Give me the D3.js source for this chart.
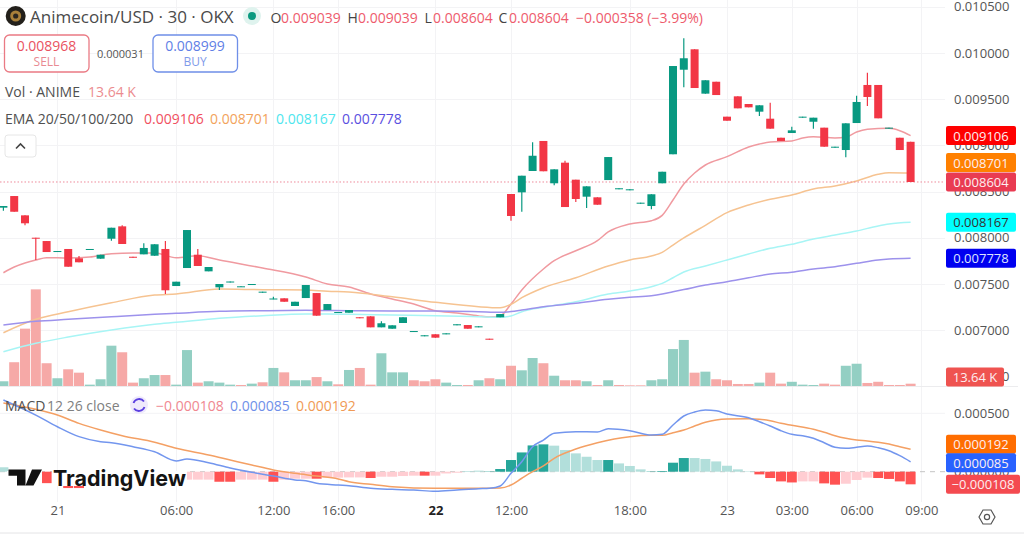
<!DOCTYPE html>
<html>
<head>
<meta charset="utf-8">
<title>Animecoin/USD</title>
<script src="https://cdnjs.cloudflare.com/ajax/libs/d3/7.9.0/d3.min.js"></script>
<style>
  html, body { margin: 0; padding: 0; background: #fff; }
  svg { display: block; }
  text { font-family: "Open Sans", "Noto Sans", sans-serif; }
</style>
</head>
<body>
<svg id="chart" width="1024" height="534"></svg>
<script>
// Prices and indicator values are in millionths (8604 = 0.008604).
const opens  = [8326,8452,8243,8001,7965,7846,7879,7778,7868,7774,7990,8124,7795,7821,7806,7879,7478,7673,7817,7637,7464,7516,7467,7489,7406,7334,7345,7262,7348,7402,7218,7186,7189,7140,7150,7031,7016,7078,6980,6934,6956,6956,7053,7056,7031,6908,7140,8474,8492,8723,9048,8590,8813,8629,8445,8438,8625,8525,8514,8369,8344,8590,8904,9819,10040,9560,9689,9311,9531,9448,9365,9289,9083,9134,9300,9256,9192,8975,8950,9242,9654,9654,9181,9083,9039];
const closes = [8344,8282,8157,7990,7846,7857,7687,7735,7879,7817,8109,7933,7784,7890,7930,7432,7525,8084,7695,7684,7500,7527,7475,7500,7417,7343,7308,7308,7489,7157,7283,7197,7218,7129,7031,7075,7053,7140,6991,6945,6919,6966,7064,7016,7042,6897,7175,8236,8672,8888,8720,8741,8333,8420,8557,8358,8874,8536,8525,8380,8471,8715,9859,9943,9621,9705,9545,9267,9401,9412,9434,9181,9048,9163,9311,9300,8986,8986,9239,9470,9524,9293,9192,8950,8604];
const upperWicks = {7:7803,11:8135,13:7940,15:7965,18:7879,25:7362,35:7097,49:9034,52:8834,63:10159,71:9462,73:9202,79:9538,80:9787};
const lowerWicks = {0:8293,2:8135,3:7760,10:7969,15:7392,20:7435,47:8185,48:8282,51:8568,53:8387,54:8322,60:8308,63:9629,70:9318,75:9181,78:8871,80:9426};

const ema20Bars = [0,1,2,3,4,6,8,10,12,14,16,18,20,24,28,30,32,34,36,38,40,42,44,45,46,47,48,50,51,53,55,56,58,60,61,62,63,64,65,67,69,70,71,73,74,75,77,78,79,80,82,83,84];
const ema20 = [7622,7684,7727,7760,7785,7781,7792,7828,7835,7835,7785,7806,7760,7673,7576,7500,7467,7392,7338,7283,7211,7186,7154,7143,7154,7283,7435,7662,7752,7860,7969,8063,8149,8185,8243,8409,8582,8701,8788,8878,8983,9015,9037,9048,9080,9094,9080,9088,9145,9174,9185,9159,9106];
const emaBars = [0,3,6,10,14,16,20,24,28,30,32,36,40,44,46,47,48,50,53,56,58,60,61,62,63,65,67,69,71,73,75,77,79,81,82,84];
const ema50  = [6973,7118,7200,7297,7381,7392,7446,7438,7435,7421,7413,7362,7302,7254,7243,7280,7352,7460,7568,7695,7760,7803,7843,7922,7998,8135,8272,8355,8417,8463,8528,8561,8615,8687,8704,8701];
const ema100 = [6767,6858,6926,7002,7064,7085,7129,7157,7175,7175,7172,7164,7157,7146,7140,7154,7200,7248,7308,7392,7424,7471,7507,7568,7630,7695,7760,7825,7886,7930,7987,8030,8074,8128,8149,8167];
const ema200 = [7056,7096,7118,7146,7172,7183,7204,7211,7215,7213,7211,7208,7208,7200,7194,7202,7218,7254,7291,7334,7356,7373,7392,7417,7440,7489,7525,7568,7608,7627,7662,7687,7724,7760,7770,7778];

// Volume in thousands, with each bar's direction.
const volumes = [28,141,340,573,135,46,99,79,8,40,239,200,20,46,65,65,8,213,20,28,20,8,6,14,22,107,81,34,34,53,28,10,95,107,8,194,81,81,34,28,40,20,6,6,34,46,40,120,93,166,135,61,34,34,28,6,34,6,4,4,34,40,219,273,79,85,40,34,12,12,20,79,14,25,8,6,14,8,120,132,18,25,6,6,13.64];
const volumeSides = "grrrrgrrgggrrggrggrgggrgrgrggrgr" + "grrgggrrrggrgrgrggrgrrgrgrrrgggg" + "rgrrrrgrrgggrrggrrrrr";

const macdBars = [0,3,5,7,9,10,12,14,16,17,19,21,23,25,27,28,29,31,32,34,36,38,40,42,44,45,46,47,48,49,50,51,53,55,56,58,60,61,62,63,64,65,66,67,69,70,71,72,73,74,75,76,77,78,79,80,81,82,83,84];
const macdLine = [614,485,385,300,257,248,214,171,92,109,77,32,-5,-37,-71,-77,-99,-114,-120,-142,-151,-157,-168,-157,-146,-142,-122,-14,86,214,271,329,342,340,368,351,314,320,400,477,511,528,522,494,462,428,391,351,320,308,286,248,209,200,209,220,205,180,137,85];
const signalBars = [0,3,5,7,9,11,14,16,19,21,23,25,27,29,31,32,34,36,40,44,46,47,48,49,50,51,53,55,58,60,61,62,63,64,65,66,67,69,70,71,72,73,75,76,77,78,79,80,81,82,83,84];
const signalLine = [588,534,485,414,357,308,252,200,143,100,57,15,-14,-37,-62,-86,-108,-128,-142,-142,-140,-114,-56,0,49,115,194,248,300,312,312,334,357,391,423,443,451,454,449,437,414,397,363,337,308,286,271,263,252,237,214,192];
const histogram = [38,-40,-60,-75,-98,-90,-140,-140,-90,-85,-80,-75,-72,-70,-68,-68,-68,-68,-68,-68,-86,-86,-68,-68,-68,-86,-68,-60,-60,-60,-51,-51,-49,-49,-54,-43,-43,-37,-34,-34,-34,-15,-9,6,9,3,23,100,165,225,234,223,186,157,128,100,100,71,49,20,3,6,77,117,117,109,88,51,20,4,-23,-54,-83,-92,-83,-83,-100,-111,-103,-71,-51,-54,-62,-83,-108];
const histogramShades = "grrrRrRRrrrrrrrrrrrrRRrrrRrrrRrrrrRrrrrRrrrggGGGGGGgggggGgggGGGGggggggRRRRrrRRrrrRRRR";

const priceTicks = [6500,7000,7500,8000,8500,9000,9500,10000,10500];
const macdTicks = [0,500];
const timeTicks = [5,16,25,31,40,47,58,67,73,79,85];
const timeLabels = ["21","06:00","12:00","16:00","22","12:00","18:00","23","03:00","06:00","09:00"];

const svg = d3.select("#chart");
const paneRight = 945;

const x = d3.scaleLinear().domain([0, 84]).range([3.4, 910.6]);
const priceY = d3.scaleLinear().domain([6500, 10500]).range([376.4, 6.8]);
const volumeY = d3.scaleLinear().domain([0, 600]).range([386, 284.8]);
const macdY = d3.scaleLinear().domain([0, 500]).range([471.7, 413.3]);

const GREEN = "#089981", RED = "#f23645";
const micro = v => (v / 1e6).toFixed(6);

// Grid
const grid = svg.append("g").attr("stroke", "#f3f3f5").attr("stroke-width", 1);
grid.selectAll(".gv").data(timeTicks).join("line")
  .attr("x1", d => Math.round(x(d)) + .5).attr("x2", d => Math.round(x(d)) + .5)
  .attr("y1", 0).attr("y2", 502);
grid.selectAll(".gh").data(priceTicks.filter(d => d > 6500)).join("line")
  .attr("x1", 0).attr("x2", paneRight)
  .attr("y1", d => Math.round(priceY(d)) + .5).attr("y2", d => Math.round(priceY(d)) + .5);
grid.append("line").attr("x1", 0).attr("x2", paneRight).attr("y1", macdY(500)).attr("y2", macdY(500));
svg.append("line").attr("x1", 0).attr("x2", 1018).attr("y1", 386.5).attr("y2", 386.5).attr("stroke", "#ececee");
svg.append("line").attr("x1", 0).attr("x2", 1024).attr("y1", 533).attr("y2", 533).attr("stroke", "#e4e4e6");

// Volume
svg.append("g").selectAll("rect").data(volumes).join("rect")
  .attr("x", (d, i) => x(i) - 5).attr("width", 10)
  .attr("y", d => volumeY(d)).attr("height", d => volumeY(0) - volumeY(d))
  .attr("fill", (d, i) => volumeSides[i] === "g" ? "#93cfc3" : "#f6a9a7");

// Moving averages
const emaLine = d3.line().x(d => x(d[0])).y(d => priceY(d[1])).curve(d3.curveMonotoneX);
[[ema20Bars, ema20, "#f09aa0"], [emaBars, ema50, "#f6c391"], [emaBars, ema100, "#a8f5f5"], [emaBars, ema200, "#9d92ec"]]
  .forEach(([bars, values, colour]) => {
    svg.append("path").datum(d3.zip(bars, values)).attr("d", emaLine)
      .attr("fill", "none").attr("stroke", colour).attr("stroke-width", 1.5);
  });

// Last price line
svg.append("line").attr("x1", 0).attr("x2", paneRight)
  .attr("y1", priceY(closes[84])).attr("y2", priceY(closes[84]))
  .attr("stroke", "#ee8a9a").attr("stroke-width", 1).attr("stroke-dasharray", "1.5 2");

// Candles
const bars = d3.range(opens.length).map(i => ({
  i, open: opens[i], close: closes[i],
  high: Math.max(opens[i], closes[i], upperWicks[i] || 0),
  low: Math.min(opens[i], closes[i], lowerWicks[i] || 1e9)
}));
const candle = svg.append("g").selectAll("g").data(bars).join("g");
candle.append("line")
  .attr("x1", d => x(d.i)).attr("x2", d => x(d.i))
  .attr("y1", d => priceY(d.high)).attr("y2", d => priceY(d.low))
  .attr("stroke", d => d.close >= d.open ? GREEN : RED).attr("stroke-width", 1.2);
candle.append("rect")
  .attr("x", d => x(d.i) - 4).attr("width", 8)
  .attr("y", d => priceY(Math.max(d.open, d.close)))
  .attr("height", d => Math.max(1, Math.abs(priceY(d.open) - priceY(d.close))))
  .attr("fill", d => d.close >= d.open ? GREEN : RED);

// MACD pane
svg.append("line").attr("x1", 0).attr("x2", paneRight).attr("y1", macdY(0)).attr("y2", macdY(0))
  .attr("stroke", "#c4c4c4").attr("stroke-dasharray", "5 5");
const shadeColour = { G: "#26a69a", g: "#b2dfdb", R: "#ff5252", r: "#ffcdd2" };
svg.append("g").selectAll("rect").data(histogram).join("rect")
  .attr("x", (d, i) => x(i) - 5).attr("width", 10)
  .attr("y", d => macdY(Math.max(d, 0)))
  .attr("height", d => Math.abs(macdY(d) - macdY(0)))
  .attr("fill", (d, i) => shadeColour[histogramShades[i]]);
const macdPath = d3.line().x(d => x(d[0])).y(d => macdY(d[1])).curve(d3.curveMonotoneX);
svg.append("path").datum(d3.zip(signalBars, signalLine)).attr("d", macdPath)
  .attr("fill", "none").attr("stroke", "#f4a064").attr("stroke-width", 1.5);
svg.append("path").datum(d3.zip(macdBars, macdLine)).attr("d", macdPath)
  .attr("fill", "none").attr("stroke", "#7396ee").attr("stroke-width", 1.5);

// Axes
const priceAxis = d3.axisRight(priceY).tickValues(priceTicks).tickFormat(micro).tickSize(0).tickPadding(0);
const macdAxis = d3.axisRight(macdY).tickValues(macdTicks).tickFormat(micro).tickSize(0).tickPadding(0);
const timeAxis = d3.axisBottom(x).tickValues(timeTicks).tickFormat((d, i) => timeLabels[i]).tickSize(0).tickPadding(0);
[svg.append("g").attr("transform", "translate(954,0)").call(priceAxis),
 svg.append("g").attr("transform", "translate(954,0)").call(macdAxis),
 svg.append("g").attr("transform", "translate(0,506)").call(timeAxis)]
  .forEach(axis => {
    axis.select(".domain").remove();
    axis.selectAll("text").attr("fill", "#555").style("font-size", "13px")
      .style("font-family", '"Open Sans", sans-serif');
  });
svg.selectAll("g.tick text").filter(function () { return this.textContent === "22"; })
  .attr("fill", "#222").style("font-weight", 700);

// Value tags along the right edge
function tag(cy, w, label, fill, ink) {
  svg.append("rect").attr("x", 946).attr("y", cy - 9.5).attr("width", w).attr("height", 19).attr("rx", 2).attr("fill", fill);
  svg.append("text").attr("x", 946 + w / 2).attr("y", cy).attr("text-anchor", "middle")
    .attr("dominant-baseline", "central").attr("font-size", 13).attr("fill", ink).text(label);
}
const pale = "#fdeef0";
tag(priceY(ema20[ema20.length - 1]), 70, micro(9106), "#ff0000", pale);
tag(priceY(8701) - 10.5, 70, micro(8701), "#ff8000", pale);
tag(priceY(closes[84]), 70, micro(closes[84]), "#e93b52", pale);
tag(priceY(8167), 70, micro(8167), "#00ffff", "#333");
tag(priceY(7778), 70, micro(7778), "#0000f0", "#dfe4ff");
tag(377, 58, "13.64 K", "#ef5350", pale);
tag(macdY(192) - 5, 70, micro(192), "#ff6d00", pale);
tag(macdY(85) + 1, 70, micro(85), "#2962ff", pale);
tag(macdY(histogram[84]), 74, "\u2212" + micro(108), "#f44a50", pale);

// Watermark, on a white backing over the histogram
const mark = svg.append("g");
mark.append("rect").attr("x", 7).attr("y", 471).attr("width", 35).attr("height", 15).attr("fill", "#fff");
mark.append("rect").attr("x", 52).attr("y", 471).attr("width", 135).attr("height", 15).attr("fill", "#fff");
mark.append("path").attr("d", "M8.5 469.5H25.5V485.5H17V475.8H8.5Z M32 469.5H42L33.5 485.5H25.5Z").attr("fill", "#111");
mark.append("text").attr("x", 53).attr("y", 485.5).attr("font-size", 22).attr("font-weight", 700)
  .attr("textLength", 133).attr("lengthAdjust", "spacingAndGlyphs").attr("fill", "#141414")
  .style("font-family", "Inter, sans-serif").text("TradingView");

// Header text
function label(px, py, str, fill, size, weight) {
  return svg.append("text").attr("x", px).attr("y", py).attr("dominant-baseline", "central")
    .attr("font-size", size || 14).attr("font-weight", weight || 400).attr("fill", fill).text(str);
}
const coin = svg.append("g");
coin.append("circle").attr("cx", 15.7).attr("cy", 16).attr("r", 10).attr("fill", "#23201b");
coin.append("circle").attr("cx", 15.7).attr("cy", 16).attr("r", 5.5).attr("fill", "#a9803a");
coin.append("circle").attr("cx", 15.7).attr("cy", 16).attr("r", 2.6).attr("fill", "#2b2620");
label(30, 16.5, "Animecoin/USD \u00b7 30 \u00b7 OKX", "#4a4a4a", 17);
svg.append("circle").attr("cx", 252).attr("cy", 16).attr("r", 9).attr("fill", "#dff3ee");
svg.append("circle").attr("cx", 252).attr("cy", 16).attr("r", 4).attr("fill", "#0c9a80");

const ohlcRed = "#ee5b6d";
[[270.5, "O", 281, 9039], [347.5, "H", 358, 9039], [424.5, "L", 433, 8604], [498.5, "C", 509, 8604]].forEach(([lx, letter, vx, v]) => {
  label(lx, 17, letter, "#444");
  label(vx, 17, micro(v), ohlcRed);
});
label(576, 17, "\u22120.000358 (\u22123.99%)", ohlcRed);

function orderBox(bx, colour, price, side, ink, sideInk) {
  svg.append("rect").attr("x", bx).attr("y", 35).attr("width", 84.5).attr("height", 37).attr("rx", 5)
    .attr("fill", "#fff").attr("stroke", colour).attr("stroke-width", 1.3);
  svg.append("text").attr("x", bx + 42).attr("y", 45).attr("text-anchor", "middle").attr("dominant-baseline", "central")
    .attr("font-size", 14).attr("fill", ink).text(price);
  svg.append("text").attr("x", bx + 42).attr("y", 61).attr("text-anchor", "middle").attr("dominant-baseline", "central")
    .attr("font-size", 12).attr("fill", sideInk).text(side);
}
orderBox(4.5, "#ea7a84", "0.008968", "SELL", "#e9525f", "#e98a92");
orderBox(153, "#6f8fe8", "0.008999", "BUY", "#5f80e6", "#7f9bea");
svg.append("text").attr("x", 120.5).attr("y", 53).attr("text-anchor", "middle").attr("dominant-baseline", "central")
  .attr("font-size", 11).attr("fill", "#555").text("0.000031");

label(5, 91, "Vol \u00b7 ANIME", "#505050");
label(88, 91, "13.64 K", "#ec8c8f");
label(5, 118, "EMA 20/50/100/200", "#505050");
[[144, 9106, "#f0505f"], [210, 8701, "#f2a35c"], [276, 8167, "#4fe6ee"], [342, 7778, "#5a4fe0"]].forEach(([lx, v, c]) => label(lx, 118, micro(v), c));

svg.append("rect").attr("x", 5).attr("y", 135).attr("width", 31).attr("height", 22).attr("rx", 3)
  .attr("fill", "#fff").attr("stroke", "#e6e6e6");
svg.append("path").attr("d", "M16 148.5l4.5-4.5 4.5 4.5").attr("fill", "none").attr("stroke", "#444").attr("stroke-width", 1.6);

label(5, 405.5, "MACD", "#505050");
label(47, 405.5, "12 26 close", "#808080");
svg.append("circle").attr("cx", 139).attr("cy", 405).attr("r", 9).attr("fill", "#efeafc");
svg.append("path").attr("d", "M133.5 403a6 6 0 0 1 10.5-1.5 M144.5 407a6 6 0 0 1-10.5 1.5").attr("fill", "none")
  .attr("stroke", "#5b3fe0").attr("stroke-width", 1.8);
label(156, 405.5, "\u2212" + micro(108), "#f08790");
label(230, 405.5, micro(85), "#6f8fe9");
label(296, 405.5, micro(192), "#f09a55");

// Settings hexagon
svg.append("path").attr("d", "M979 517l4-7h8l4 7-4 7h-8z").attr("fill", "none").attr("stroke", "#555").attr("stroke-width", 1.2);
svg.append("circle").attr("cx", 987).attr("cy", 517).attr("r", 2.6).attr("fill", "none").attr("stroke", "#555").attr("stroke-width", 1.2);
</script>
</body>
</html>
